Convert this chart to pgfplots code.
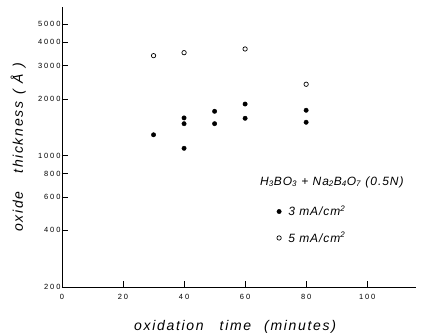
\documentclass[border=0pt]{standalone}
\usepackage{fontspec}
\setmainfont{Liberation Sans}
\usepackage{pgfplots}
\pgfplotsset{compat=1.18}
\newfontfamily\lblfont[LetterSpace=12]{Liberation Sans}
\newfontfamily\lgdfont[LetterSpace=8]{Liberation Sans}
\newfontfamily\tickfont[LetterSpace=25]{Liberation Sans}

\begin{document}
\begin{tikzpicture}[x=1pt,y=1pt]
\useasboundingbox (-62,-48) rectangle (360,287);
\begin{axis}[
  scale only axis, width=354pt, height=280pt,
  ymode=log, xmin=0, xmax=116, ymin=200, ymax=6170,
  axis lines=left, axis line style={-, line width=0.8pt},
  tick style={black, line width=0.8pt}, tick align=inside, major tick length=6pt,
  yminorticks=false, xminorticks=false,
  xtick={0,20,40,60,80,100},
  ytick={200,400,600,800,1000,2000,3000,4000,5000},
  yticklabels={200,400,600,800,1000,2000,3000,4000,5000},
  /pgf/number format/assume math mode=true,
  ticklabel style={font=\tickfont\fontsize{7.5}{8}\selectfont},
  yticklabel style={xshift=2pt},
  xticklabel style={yshift=-4pt},
  every axis x label/.style={at={(axis description cs:0.489,-0.143)},anchor=center},
  every axis y label/.style={at={(axis description cs:-0.124,0.5)},anchor=center,rotate=90},
  xlabel={\lblfont\itshape\fontsize{14}{16}\selectfont oxidation\hspace{16pt}time\hspace{13pt}(minutes)},
  ylabel={\lblfont\itshape\fontsize{14}{16}\selectfont oxide\hspace{18pt}thickness\hspace{2pt} ( Å\hspace{2pt} )},
  legend style={draw=none, fill=none, at={(rel axis cs:0.598,0.305)}, anchor=north west,
    font=\lgdfont\itshape\fontsize{12}{14}\selectfont, row sep=11pt,
    /tikz/every odd column/.style={column sep=5pt}},
  legend cell align=left,
]
\addplot[only marks, mark=*, mark size=2.2pt, black] coordinates {
  (30,1290) (40,1586) (40,1478) (40,1093) (50,1720) (50,1478)
  (60,1880) (60,1579) (80,1742) (80,1504)
};
\addlegendentry{3 mA/cm\textsuperscript{2}}
\addplot[only marks, mark=o, mark size=2.2pt, black, mark options={line width=0.7pt}] coordinates {
  (30,3400) (40,3526) (60,3690) (80,2395)
};
\addlegendentry{5 mA/cm\textsuperscript{2}}
\node[anchor=west, font=\lgdfont\itshape\fontsize{12}{14}\selectfont] at (rel axis cs:0.55,0.375)
  {H\textsubscript{3}BO\textsubscript{3} + Na\textsubscript{2}B\textsubscript{4}O\textsubscript{7} (0.5N)};
\end{axis}
\end{tikzpicture}
\end{document}
